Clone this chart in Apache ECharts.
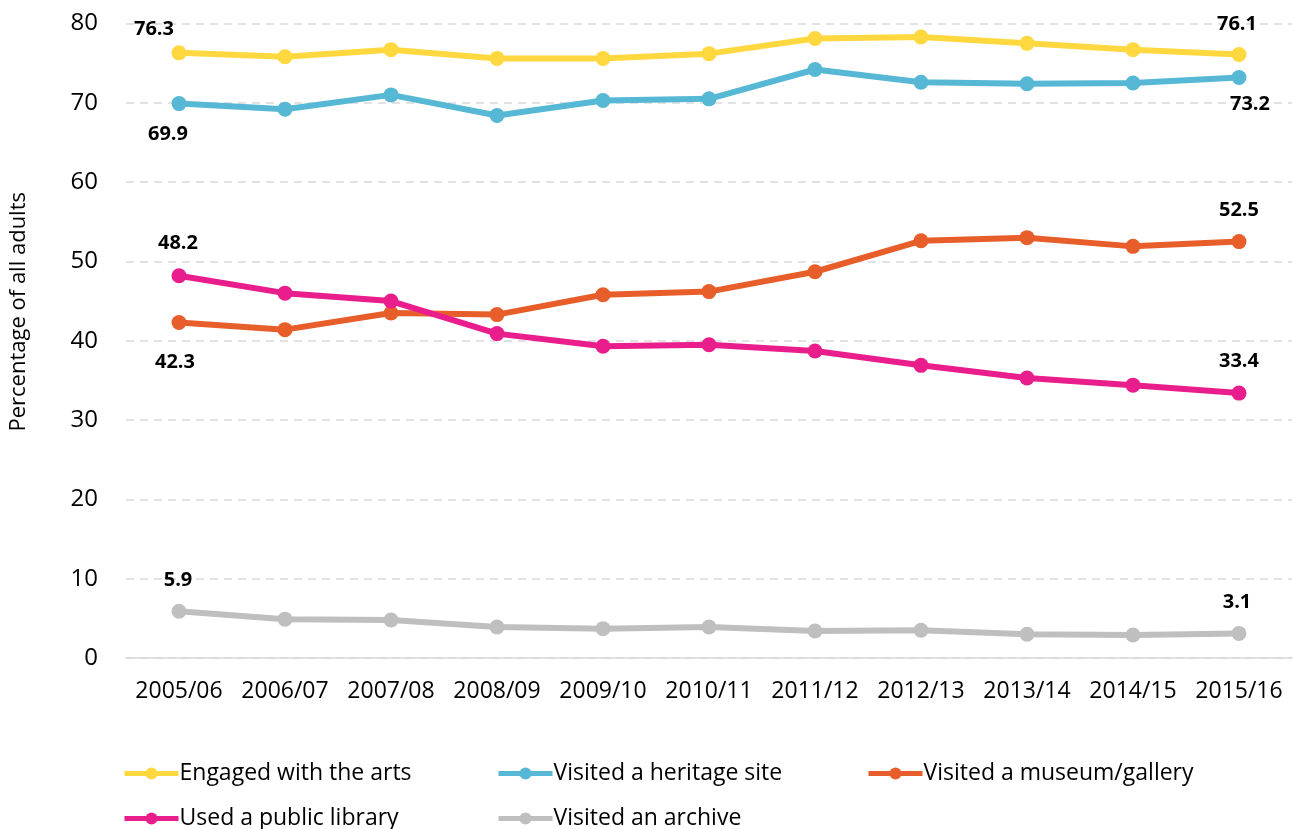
<!DOCTYPE html>
<html>
<head>
<meta charset="utf-8">
<script src="https://cdn.jsdelivr.net/npm/echarts@6/dist/echarts.min.js"></script>
<style>
html,body{margin:0;padding:0;background:#fff;}
#chart{width:1293px;height:829px;}
</style>
</head>
<body>
<div id="chart"></div>
<script>
// Survey years
const years = ['2005/06','2006/07','2007/08','2008/09','2009/10','2010/11','2011/12','2012/13','2013/14','2014/15','2015/16'];

// Percentage of all adults, by activity
const arts     = [76.3, 75.8, 76.7, 75.6, 75.6, 76.2, 78.1, 78.3, 77.5, 76.7, 76.1];
const heritage = [69.9, 69.2, 71.0, 68.4, 70.3, 70.5, 74.2, 72.6, 72.4, 72.5, 73.2];
const museum   = [42.3, 41.4, 43.5, 43.3, 45.8, 46.2, 48.7, 52.6, 53.0, 51.9, 52.5];
const library  = [48.2, 46.0, 45.0, 40.9, 39.3, 39.5, 38.7, 36.9, 35.3, 34.4, 33.4];
const archive  = [5.9, 4.9, 4.8, 3.9, 3.7, 3.9, 3.4, 3.5, 3.0, 2.9, 3.1];

const yTicks = [0, 10, 20, 30, 40, 50, 60, 70, 80];

const FONT = '"Open Sans", sans-serif';

// Build point data; first and last points carry a value label
function withEndLabels(values, firstOffset, lastOffset) {
  const last = values.length - 1;
  return values.map((v, i) => {
    if (i === 0 || i === last) {
      const off = i === 0 ? firstOffset : lastOffset;
      return {
        value: v,
        label: {
          show: true,
          position: 'inside',
          offset: off,
          formatter: (p) => p.value.toFixed(1),
          fontFamily: FONT,
          fontWeight: 'bold',
          fontSize: 20,
          color: '#000'
        }
      };
    }
    return v;
  });
}

function lineSeries(name, color, values, firstOffset, lastOffset) {
  return {
    name: name,
    type: 'line',
    data: withEndLabels(values, firstOffset, lastOffset),
    symbol: 'circle',
    symbolSize: 15,
    lineStyle: { color: color, width: 6 },
    itemStyle: { color: color },
    emphasis: { disabled: true },
    z: 3
  };
}

function legendAt(name, left, top) {
  return {
    data: [name],
    left: left,
    top: top,
    itemWidth: 54,
    itemHeight: 15,
    itemGap: 6,
    lineStyle: { width: 5 },
    textStyle: { fontFamily: FONT, fontSize: 23, color: '#000', padding: [0, 0, 0, -4] },
    selectedMode: false
  };
}

const chart = echarts.init(document.getElementById('chart'), null, { renderer: 'canvas' });

chart.setOption({
  animation: false,
  backgroundColor: '#fff',
  grid: { left: 123, right: 1, top: 23.5, bottom: 171, containLabel: false },
  legend: [
    legendAt('Engaged with the arts', 117, 757),
    legendAt('Visited a heritage site', 491, 757),
    legendAt('Visited a museum/gallery', 861, 757),
    legendAt('Used a public library', 117, 802),
    legendAt('Visited an archive', 491, 802)
  ],
  xAxis: {
    type: 'category',
    data: years,
    boundaryGap: true,
    axisLine: { show: true, lineStyle: { color: '#D9D9D9', width: 1.5 } },
    axisTick: { show: false },
    axisLabel: { interval: 0, fontFamily: FONT, fontSize: 23, color: '#000', margin: 22 }
  },
  yAxis: {
    type: 'value',
    min: yTicks[0],
    max: yTicks[yTicks.length - 1],
    interval: 10,
    name: 'Percentage of all adults',
    nameLocation: 'middle',
    nameGap: 96,
    nameTextStyle: { fontFamily: FONT, fontSize: 22, color: '#000', padding: [0, 0, 0, 58] },
    axisLine: { show: false },
    axisTick: { show: false },
    axisLabel: { fontFamily: FONT, fontSize: 24, color: '#000', margin: 28 },
    splitLine: { show: true, lineStyle: { color: '#D9D9D9', type: [8, 6], width: 1.5 } }
  },
  series: [
    lineSeries('Engaged with the arts', '#FFD83F', arts, [-25, -24], [-2, -30]),
    lineSeries('Visited a heritage site', '#56B8D4', heritage, [-11, 31], [11, 27]),
    lineSeries('Visited a museum/gallery', '#E85E2B', museum, [-4, 40], [0, -31]),
    lineSeries('Used a public library', '#E91E8C', library, [-1, -32], [0, -32]),
    lineSeries('Visited an archive', '#BFBFBF', archive, [-1, -31], [-2, -31])
  ]
});
</script>
</body>
</html>
